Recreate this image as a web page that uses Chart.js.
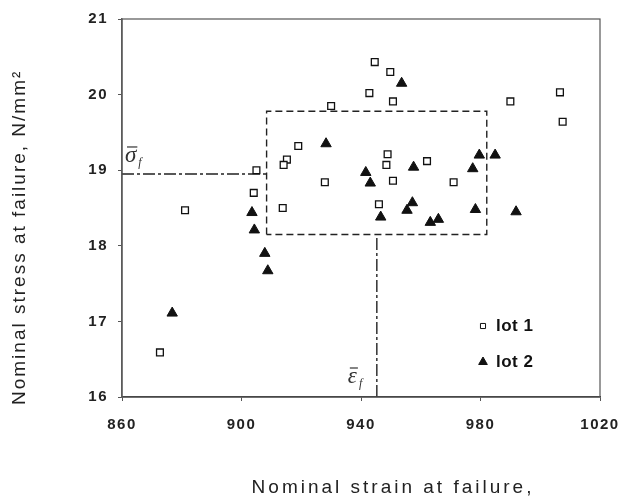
<!DOCTYPE html>
<html>
<head>
<meta charset="utf-8">
<script src="https://cdn.jsdelivr.net/npm/chart.js@4/dist/chart.umd.min.js"></script>
<style>
  html, body { margin: 0; padding: 0; background: #fff; }
  #wrap { width: 623px; height: 497px; }
</style>
</head>
<body>
<div id="wrap"><canvas id="chart" width="623" height="497"></canvas></div>
<script>
// values
const lot1Strain = [944.6, 949.8, 942.8, 950.7, 990.0, 1006.6, 1007.5, 948.9, 948.5, 962.1, 950.7, 971.0,
  946.0, 930.0, 919.0, 915.2, 914.1, 905.0, 927.9, 904.1, 881.1, 913.8, 872.7];
const lot1Stress = [20.43, 20.30, 20.02, 19.91, 19.91, 20.03, 19.64, 19.21, 19.07, 19.12, 18.86, 18.84,
  18.55, 19.85, 19.32, 19.14, 19.07, 19.00, 18.84, 18.70, 18.47, 18.50, 16.59];

const lot2Strain = [953.6, 979.6, 984.9, 941.6, 943.1, 957.6, 977.4, 957.2, 955.4, 946.6, 963.2, 965.9,
  978.3, 991.9, 928.3, 903.5, 904.3, 907.8, 908.8, 876.8];
const lot2Stress = [20.15, 19.20, 19.20, 18.97, 18.83, 19.04, 19.02, 18.57, 18.47, 18.38, 18.31, 18.35,
  18.48, 18.45, 19.35, 18.44, 18.21, 17.90, 17.67, 17.11];

const meanStrain = 945.3;
const meanStress = 18.95;
const boxStrain = [908.4, 982.1];
const boxStress = [18.15, 19.78];

const xTicks = [860, 900, 940, 980, 1020];
const yTicks = [16, 17, 18, 19, 20, 21];

const xTitle = 'Nominal strain at failure,';
const yTitle = 'Nominal stress at failure, N/mm²';

const toPoints = (xs, ys) => xs.map((x, i) => ({ x, y: ys[i] }));

const INK = '#111';
const SANS = "'Liberation Sans', Arial, sans-serif";
const TICK_FONT = { family: SANS, size: 15, weight: 'bold' };

const boxPoints = [
  { x: boxStrain[0], y: boxStress[0] },
  { x: boxStrain[0], y: boxStress[1] },
  { x: boxStrain[1], y: boxStress[1] },
  { x: boxStrain[1], y: boxStress[0] },
  { x: boxStrain[0], y: boxStress[0] }
];

const refLine = (data, dash) => ({
  type: 'line',
  data,
  showLine: true,
  borderColor: '#222',
  borderWidth: 1.4,
  borderDash: dash,
  pointRadius: 0,
  fill: false,
  tension: 0,
  isRef: true
});

// the scanned figure has widely spaced lettering
const spacing = {
  id: 'spacing',
  beforeUpdate(chart) { chart.ctx.letterSpacing = '1.5px'; },
  beforeDraw(chart) { chart.ctx.letterSpacing = '1.5px'; }
};

// "lot 1 / lot 2" key inside the plot, lower right
const keyPlugin = {
  id: 'key',
  afterDatasetsDraw(chart) {
    const { ctx, chartArea } = chart;
    const rows = chart.data.datasets.filter(d => !d.isRef);
    ctx.save();
    ctx.letterSpacing = '0.5px';
    rows.forEach((ds, i) => {
      const y = chartArea.bottom - 71 + i * 36;
      const mx = chartArea.right - 117;
      ctx.fillStyle = ds.backgroundColor;
      ctx.strokeStyle = ds.borderColor;
      ctx.lineWidth = 1;
      Chart.helpers.drawPoint(ctx, {
        pointStyle: ds.pointStyle,
        radius: ds.pointStyle === 'triangle' ? 5 : 3.6,
        borderWidth: 1
      }, mx, y);
      ctx.fillStyle = INK;
      ctx.font = 'bold 17px ' + SANS;
      ctx.textBaseline = 'middle';
      ctx.textAlign = 'left';
      ctx.fillText(ds.label, mx + 13, y);
    });
    ctx.restore();
  }
};

// mean markers (sigma-bar f, epsilon-bar f), plot frame and the axis captions
const annotPlugin = {
  id: 'annot',
  afterDatasetsDraw(chart) {
    const { ctx, chartArea, scales } = chart;
    const barSymbol = (sym, x, yBase) => {
      ctx.letterSpacing = '0px';
      ctx.font = "italic 23px 'Liberation Serif', 'Times New Roman', serif";
      ctx.textBaseline = 'alphabetic';
      ctx.textAlign = 'left';
      ctx.fillStyle = '#333';
      ctx.fillText(sym, x, yBase);
      const w = ctx.measureText(sym).width;
      ctx.strokeStyle = '#333';
      ctx.lineWidth = 1.2;
      ctx.beginPath();
      ctx.moveTo(x + 2, yBase - 15);
      ctx.lineTo(x + w + 1, yBase - 15);
      ctx.stroke();
      ctx.font = "italic 12px 'Liberation Serif', 'Times New Roman', serif";
      ctx.fillText('f', x + w + 2, yBase + 4);
    };
    ctx.save();
    barSymbol('σ', chartArea.left + 3, scales.y.getPixelForValue(meanStress) - 12);
    barSymbol('ε', scales.x.getPixelForValue(meanStrain) - 29, chartArea.bottom - 14);

    ctx.strokeStyle = '#555';
    ctx.lineWidth = 1.2;
    ctx.strokeRect(chartArea.left, chartArea.top, chartArea.width, chartArea.height);

    ctx.fillStyle = '#222';
    ctx.textBaseline = 'middle';
    ctx.font = '19px ' + SANS;

    ctx.letterSpacing = '3px';
    ctx.textAlign = 'center';
    ctx.fillText(xTitle, chartArea.left + chartArea.width * 0.567, chart.height - 9);

    ctx.letterSpacing = '2px';
    ctx.translate(20, chartArea.bottom + 8);
    ctx.rotate(-Math.PI / 2);
    ctx.textAlign = 'left';
    ctx.fillText(yTitle, 0, 0);
    ctx.restore();
  }
};

new Chart(document.getElementById('chart'), {
  type: 'scatter',
  data: {
    datasets: [
      {
        label: 'lot 1',
        data: toPoints(lot1Strain, lot1Stress),
        pointStyle: 'rect',
        pointRadius: 4.8,
        pointBorderWidth: 1.3,
        backgroundColor: '#fff',
        borderColor: INK
      },
      {
        label: 'lot 2',
        data: toPoints(lot2Strain, lot2Stress),
        pointStyle: 'triangle',
        pointRadius: 6,
        pointBorderWidth: 1,
        backgroundColor: INK,
        borderColor: INK
      },
      refLine(boxPoints, [7, 4]),
      refLine([{ x: xTicks[0], y: meanStress }, { x: boxStrain[0], y: meanStress }], [12, 3, 3, 3]),
      refLine([{ x: meanStrain, y: yTicks[0] }, { x: meanStrain, y: boxStress[0] }], [12, 3, 3, 3])
    ]
  },
  options: {
    responsive: false,
    animation: false,
    events: [],
    layout: { padding: { top: 19, right: 23, left: 0, bottom: 0 } },
    plugins: {
      legend: { display: false },
      tooltip: { enabled: false }
    },
    scales: {
      x: {
        type: 'linear',
        min: xTicks[0],
        max: xTicks[xTicks.length - 1],
        afterBuildTicks: s => { s.ticks = xTicks.map(v => ({ value: v })); },
        afterFit: s => { s.height = 100; s.paddingRight = 0; s.paddingLeft = 0; },
        ticks: { font: TICK_FONT, color: '#222', padding: 15, callback: v => String(v) },
        grid: { display: true, drawOnChartArea: false, drawTicks: true, tickLength: 4, color: '#555' },
        border: { display: true, color: '#333', width: 1.5 },
        title: { display: false }
      },
      y: {
        type: 'linear',
        min: yTicks[0],
        max: yTicks[yTicks.length - 1],
        afterBuildTicks: s => { s.ticks = yTicks.map(v => ({ value: v })); },
        afterFit: s => { s.width = 122; s.paddingTop = 0; s.paddingBottom = 0; },
        ticks: { font: TICK_FONT, color: '#222', padding: 10, callback: v => String(v) },
        grid: { display: true, drawOnChartArea: false, drawTicks: true, tickLength: 4, color: '#555' },
        border: { display: true, color: '#666', width: 1.5 },
        title: { display: false }
      }
    }
  },
  plugins: [spacing, keyPlugin, annotPlugin]
});
</script>
</body>
</html>
